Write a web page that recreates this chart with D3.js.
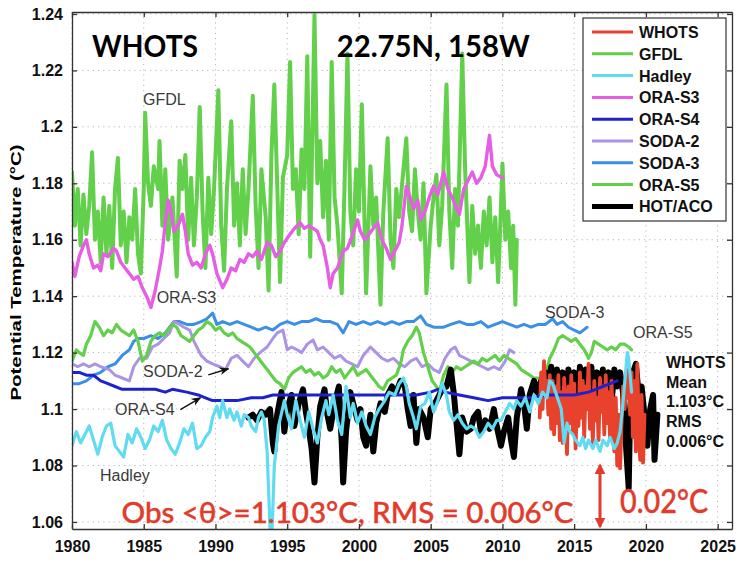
<!DOCTYPE html>
<html><head><meta charset="utf-8">
<script src="https://cdn.jsdelivr.net/npm/d3@7"></script>
<style>body{margin:0;background:#fff}svg{display:block}</style>
</head><body>
<svg id="chart" width="756" height="565"></svg>
<script>
// ---------- data (year, potential temperature °C) ----------
const xTicks = [1980,1985,1990,1995,2000,2005,2010,2015,2020,2025];
const yTicks = [1.06,1.08,1.10,1.12,1.14,1.16,1.18,1.20,1.22,1.24];
const legendNames = ["WHOTS","GFDL","Hadley","ORA-S3","ORA-S4","SODA-2","SODA-3","ORA-S5","HOT/ACO"];

const gfdl = [[1980.0,1.184],[1980.2,1.165],[1980.4,1.178],[1980.6,1.158],[1980.8,1.176],[1981.0,1.162],[1981.2,1.172],[1981.4,1.191],[1981.6,1.160],[1981.8,1.170],
[1982.0,1.152],[1982.2,1.175],[1982.4,1.155],[1982.6,1.172],[1982.8,1.150],[1983.0,1.178],[1983.2,1.189],[1983.4,1.158],[1983.6,1.170],[1983.8,1.152],
[1984.0,1.168],[1984.2,1.160],[1984.4,1.178],[1984.6,1.155],[1984.8,1.148],[1985.0,1.178],[1985.1,1.205],[1985.3,1.180],[1985.5,1.172],[1985.7,1.186],
[1986.0,1.178],[1986.1,1.195],[1986.3,1.165],[1986.5,1.185],[1986.7,1.160],[1987.0,1.175],[1987.3,1.147],[1987.5,1.188],[1987.7,1.178],[1987.9,1.190],
[1988.1,1.160],[1988.3,1.182],[1988.5,1.158],[1988.7,1.175],[1988.9,1.207],[1989.1,1.170],[1989.3,1.150],[1989.5,1.182],[1989.7,1.162],[1989.9,1.178],
[1990.2,1.213],[1990.4,1.165],[1990.6,1.149],[1990.8,1.178],[1991.1,1.202],[1991.3,1.165],[1991.5,1.180],[1991.7,1.158],[1991.9,1.185],[1992.1,1.162],
[1992.3,1.178],[1992.6,1.211],[1992.8,1.172],[1993.0,1.150],[1993.2,1.185],[1993.5,1.168],[1993.7,1.142],[1993.9,1.190],[1994.1,1.215],[1994.3,1.180],
[1994.5,1.145],[1994.7,1.182],[1995.0,1.190],[1995.2,1.223],[1995.4,1.178],[1995.6,1.185],[1995.8,1.162],[1996.0,1.192],[1996.2,1.178],[1996.4,1.225],
[1996.6,1.154],[1996.9,1.2396],[1997.1,1.180],[1997.3,1.195],[1997.5,1.168],[1997.7,1.188],[1997.9,1.160],[1998.1,1.223],[1998.3,1.175],[1998.5,1.165],
[1998.8,1.141],[1999.0,1.180],[1999.2,1.226],[1999.4,1.170],[1999.6,1.158],[1999.8,1.185],[2000.0,1.170],[2000.2,1.208],[2000.5,1.141],[2000.8,1.186],
[2001.0,1.165],[2001.2,1.175],[2001.5,1.137],[2001.7,1.170],[2002.0,1.196],[2002.2,1.160],[2002.4,1.150],[2002.6,1.178],[2002.8,1.168],[2003.1,1.185],
[2003.3,1.196],[2003.5,1.170],[2003.7,1.163],[2003.9,1.185],[2004.1,1.170],[2004.3,1.160],[2004.5,1.180],[2004.7,1.141],[2005.0,1.165],[2005.2,1.175],
[2005.4,1.183],[2005.6,1.158],[2005.8,1.172],[2006.1,1.215],[2006.3,1.170],[2006.5,1.150],[2006.7,1.178],[2006.9,1.165],[2007.2,1.226],[2007.4,1.185],
[2007.7,1.145],[2007.9,1.172],[2008.1,1.155],[2008.3,1.165],[2008.5,1.150],[2008.7,1.170],[2008.9,1.158],[2009.1,1.175],[2009.3,1.152],[2009.5,1.168],
[2009.7,1.145],[2009.85,1.165],[2010.0,1.187],[2010.2,1.160],[2010.4,1.170],[2010.6,1.150],[2010.75,1.165],[2010.9,1.137],[2011.0,1.160]];

const oras3 = [[1980.0,1.152],[1980.2,1.147],[1980.5,1.154],[1980.8,1.158],[1981.0,1.160],[1981.2,1.155],[1981.5,1.150],[1981.8,1.151],[1982.0,1.149],[1982.2,1.155],
[1982.5,1.154],[1982.9,1.157],[1983.1,1.156],[1983.4,1.152],[1983.7,1.150],[1984.0,1.148],[1984.3,1.146],[1984.6,1.147],[1984.9,1.143],[1985.2,1.140],
[1985.5,1.136],[1985.8,1.142],[1986.1,1.150],[1986.3,1.156],[1986.5,1.166],[1986.7,1.174],[1986.9,1.170],[1987.1,1.163],[1987.4,1.165],[1987.7,1.169],
[1987.9,1.163],[1988.1,1.155],[1988.4,1.151],[1988.7,1.152],[1989.0,1.150],[1989.3,1.155],[1989.6,1.158],[1989.8,1.155],[1990.1,1.148],[1990.5,1.143],
[1990.8,1.146],[1991.1,1.150],[1991.4,1.149],[1991.7,1.153],[1992.0,1.152],[1992.3,1.155],[1992.6,1.154],[1992.9,1.156],[1993.2,1.153],[1993.6,1.159],
[1993.9,1.158],[1994.2,1.154],[1994.5,1.156],[1994.8,1.159],[1995.2,1.162],[1995.5,1.164],[1995.9,1.166],[1996.2,1.164],[1996.5,1.165],[1996.8,1.164],
[1997.1,1.163],[1997.3,1.160],[1997.5,1.158],[1997.8,1.150],[1998.0,1.143],[1998.2,1.148],[1998.5,1.150],[1998.9,1.156],[1999.2,1.157],[1999.5,1.161],
[1999.9,1.167],[2000.1,1.163],[2000.4,1.160],[2000.7,1.162],[2001.0,1.164],[2001.3,1.166],[2001.6,1.160],[2001.9,1.157],[2002.2,1.153],[2002.5,1.156],
[2002.8,1.159],[2003.0,1.165],[2003.3,1.179],[2003.5,1.176],[2003.8,1.171],[2004.1,1.174],[2004.3,1.167],[2004.6,1.170],[2004.9,1.175],[2005.2,1.179],
[2005.5,1.176],[2005.9,1.184],[2006.2,1.178],[2006.5,1.175],[2006.8,1.171],[2007.0,1.169],[2007.3,1.178],[2007.6,1.181],[2007.9,1.184],[2008.2,1.180],
[2008.5,1.182],[2008.8,1.186],[2009.1,1.197],[2009.3,1.186],[2009.6,1.183],[2010.0,1.182]];

const soda3 = [[1980.0,1.109],[1980.5,1.109],[1981.0,1.110],[1981.5,1.112],[1982.0,1.113],[1982.5,1.115],[1983.0,1.116],[1983.5,1.119],[1984.0,1.121],[1984.3,1.124],
[1984.6,1.125],[1985.0,1.125],[1985.5,1.126],[1986.0,1.125],[1986.5,1.127],[1986.8,1.129],[1987.1,1.131],[1987.5,1.131],[1988.0,1.130],[1988.5,1.130],
[1989.0,1.131],[1989.4,1.132],[1989.8,1.134],[1990.1,1.130],[1990.5,1.131],[1991.0,1.130],[1991.5,1.131],[1992.0,1.130],[1992.5,1.129],[1993.0,1.128],
[1993.5,1.129],[1994.0,1.128],[1994.5,1.130],[1995.0,1.131],[1995.5,1.130],[1996.0,1.131],[1996.5,1.131],[1997.0,1.132],[1997.5,1.131],[1998.0,1.131],
[1998.5,1.130],[1998.9,1.127],[1999.3,1.131],[1999.8,1.130],[2000.3,1.131],[2000.8,1.130],[2001.3,1.131],[2001.8,1.130],[2002.3,1.131],[2002.8,1.130],
[2003.3,1.131],[2003.8,1.131],[2004.3,1.133],[2004.7,1.130],[2005.2,1.129],[2005.9,1.129],[2006.4,1.130],[2007.0,1.131],[2007.5,1.130],[2008.0,1.130],
[2008.5,1.131],[2009.0,1.129],[2009.5,1.130],[2010.0,1.131],[2010.5,1.130],[2011.0,1.129],[2011.5,1.130],[2012.0,1.129],[2012.5,1.130],[2013.0,1.130],
[2013.5,1.132],[2013.8,1.130],[2014.2,1.131],[2014.6,1.129],[2015.0,1.128],[2015.4,1.127],[2015.9,1.129]];

const soda2 = [[1980.0,1.116],[1980.4,1.115],[1980.8,1.116],[1981.2,1.115],[1981.6,1.116],[1982.0,1.115],[1982.6,1.114],[1983.0,1.112],[1983.5,1.111],[1984.0,1.110],
[1984.3,1.115],[1984.7,1.118],[1985.2,1.118],[1985.6,1.122],[1986.0,1.123],[1986.4,1.125],[1986.8,1.127],[1987.1,1.131],[1987.5,1.130],[1987.8,1.129],
[1988.2,1.128],[1988.5,1.124],[1988.7,1.122],[1989.0,1.119],[1989.4,1.117],[1989.8,1.116],[1990.3,1.115],[1990.7,1.114],[1991.1,1.118],[1991.5,1.119],
[1991.9,1.117],[1992.3,1.115],[1992.7,1.118],[1993.1,1.120],[1993.6,1.122],[1994.0,1.125],[1994.3,1.127],[1994.7,1.128],[1995.0,1.121],[1995.3,1.122],
[1995.7,1.121],[1996.0,1.120],[1996.4,1.123],[1996.8,1.1245],[1997.1,1.121],[1997.5,1.122],[1997.9,1.120],[1998.3,1.118],[1998.7,1.119],[1999.1,1.117],
[1999.5,1.116],[1999.9,1.115],[2000.3,1.119],[2000.8,1.122],[2001.2,1.120],[2001.6,1.118],[2002.0,1.117],[2002.4,1.118],[2002.8,1.116],[2003.2,1.115],
[2003.6,1.117],[2004.0,1.118],[2004.4,1.115],[2004.8,1.116],[2005.2,1.114],[2005.6,1.113],[2006.0,1.118],[2006.4,1.121],[2006.7,1.122],[2007.0,1.119],
[2007.4,1.118],[2007.8,1.117],[2008.2,1.116],[2008.6,1.115],[2009.0,1.114],[2009.4,1.115],[2009.8,1.114],[2010.2,1.117],[2010.5,1.121],[2010.8,1.120]];

const oras5 = [[1980.0,1.117],[1980.3,1.121],[1980.5,1.120],[1980.8,1.119],[1981.0,1.123],[1981.3,1.126],[1981.6,1.131],[1981.9,1.129],[1982.2,1.126],[1982.5,1.128],
[1982.8,1.127],[1983.1,1.130],[1983.4,1.128],[1983.7,1.127],[1984.0,1.126],[1984.3,1.128],[1984.6,1.124],[1984.9,1.117],[1985.2,1.119],[1985.5,1.124],
[1985.8,1.126],[1986.1,1.127],[1986.4,1.126],[1986.7,1.128],[1987.0,1.130],[1987.3,1.129],[1987.6,1.126],[1987.9,1.125],[1988.2,1.124],[1988.5,1.126],
[1988.8,1.128],[1989.1,1.129],[1989.4,1.131],[1989.7,1.130],[1990.0,1.128],[1990.3,1.129],[1990.6,1.127],[1990.9,1.126],[1991.2,1.127],[1991.5,1.125],
[1991.8,1.124],[1992.1,1.123],[1992.4,1.122],[1992.7,1.120],[1993.0,1.118],[1993.3,1.116],[1993.6,1.114],[1993.9,1.112],[1994.2,1.110],[1994.5,1.109],
[1994.8,1.107],[1995.1,1.111],[1995.4,1.113],[1995.7,1.114],[1996.0,1.115],[1996.3,1.113],[1996.6,1.114],[1996.9,1.112],[1997.2,1.113],[1997.5,1.111],
[1997.8,1.112],[1998.1,1.115],[1998.4,1.113],[1998.7,1.114],[1999.0,1.111],[1999.3,1.113],[1999.6,1.115],[1999.9,1.112],[2000.2,1.113],[2000.5,1.114],
[2000.8,1.112],[2001.1,1.110],[2001.4,1.108],[2001.7,1.107],[2002.0,1.110],[2002.3,1.111],[2002.6,1.112],[2002.9,1.116],[2003.1,1.121],[2003.4,1.124],
[2003.7,1.126],[2004.0,1.129],[2004.2,1.127],[2004.5,1.120],[2004.8,1.115],[2005.1,1.110],[2005.4,1.108],[2005.6,1.106],[2005.9,1.112],[2006.2,1.115],
[2006.5,1.113],[2006.8,1.115],[2007.1,1.114],[2007.4,1.115],[2007.7,1.116],[2008.0,1.117],[2008.3,1.116],[2008.6,1.118],[2008.9,1.117],[2009.2,1.118],
[2009.5,1.119],[2009.8,1.117],[2010.1,1.119],[2010.4,1.118],[2010.7,1.117],[2011.0,1.116],[2011.3,1.114],[2011.6,1.113],[2011.9,1.112],[2012.2,1.111],
[2012.5,1.111],[2012.8,1.110],[2013.1,1.114],[2013.3,1.118],[2013.6,1.121],[2013.9,1.125],[2014.2,1.126],[2014.5,1.125],[2014.8,1.124],[2015.1,1.125],
[2015.4,1.123],[2015.7,1.121],[2016.0,1.118],[2016.2,1.120],[2016.4,1.124],[2016.7,1.123],[2017.0,1.122],[2017.3,1.121],[2017.6,1.122],[2017.9,1.121],
[2018.2,1.123],[2018.5,1.123],[2018.8,1.122],[2019.0,1.121]];

const oras4 = [[1980.0,1.113],[1980.5,1.113],[1981.0,1.112],[1981.5,1.112],[1982.0,1.110],[1982.5,1.109],[1983.0,1.108],[1983.5,1.107],[1984.0,1.107],[1985.0,1.107],
[1985.8,1.107],[1986.5,1.106],[1987.0,1.107],[1988.0,1.106],[1988.8,1.105],[1989.3,1.104],[1989.8,1.103],[1990.5,1.103],[1991.5,1.103],[1992.5,1.104],
[1993.3,1.104],[1994.0,1.105],[1995.0,1.105],[1996.0,1.105],[1997.0,1.105],[1998.0,1.105],[1999.0,1.105],[2000.0,1.105],[2001.0,1.105],[2002.0,1.105],
[2003.0,1.105],[2004.0,1.105],[2005.0,1.106],[2005.5,1.107],[2006.0,1.106],[2007.0,1.105],[2008.0,1.104],[2009.0,1.103],[2010.0,1.104],[2011.0,1.104],
[2012.0,1.104],[2013.0,1.105],[2014.0,1.105],[2015.0,1.105],[2016.0,1.106],[2016.5,1.107],[2017.0,1.108],[2017.5,1.109],[2018.0,1.110]];

const hadley = [[1980.0,1.087],[1980.3,1.092],[1980.6,1.088],[1980.9,1.091],[1981.2,1.094],[1981.5,1.089],[1981.8,1.084],[1982.1,1.090],[1982.4,1.094],[1982.7,1.095],
[1983.0,1.087],[1983.3,1.085],[1983.6,1.083],[1983.9,1.091],[1984.2,1.088],[1984.5,1.093],[1984.8,1.090],[1985.1,1.086],[1985.4,1.089],[1985.7,1.094],
[1986.0,1.092],[1986.3,1.096],[1986.6,1.089],[1986.9,1.086],[1987.2,1.084],[1987.5,1.088],[1987.8,1.093],[1988.1,1.091],[1988.4,1.095],[1988.7,1.086],
[1989.0,1.087],[1989.3,1.090],[1989.6,1.092],[1989.8,1.097],[1990.1,1.101],[1990.3,1.097],[1990.5,1.103],[1990.8,1.097],[1991.0,1.100],[1991.3,1.096],
[1991.5,1.099],[1991.8,1.094],[1992.0,1.098],[1992.3,1.097],[1992.5,1.094],[1992.8,1.092],[1993.0,1.097],[1993.2,1.099],[1993.4,1.096],[1993.6,1.085],
[1993.8,1.058],[1993.9,1.050],[1994.1,1.080],[1994.4,1.094],[1994.8,1.103],[1995.0,1.098],[1995.3,1.093],[1995.6,1.103],[1995.9,1.096],[1996.2,1.090],
[1996.5,1.099],[1996.8,1.093],[1997.1,1.088],[1997.4,1.097],[1997.7,1.103],[1997.9,1.098],[1998.2,1.105],[1998.5,1.096],[1998.8,1.091],[1999.1,1.108],
[1999.4,1.097],[1999.6,1.102],[1999.9,1.095],[2000.2,1.099],[2000.5,1.094],[2000.8,1.091],[2001.1,1.097],[2001.4,1.100],[2001.8,1.103],[2002.1,1.106],
[2002.5,1.105],[2002.8,1.109],[2003.1,1.111],[2003.3,1.108],[2003.5,1.102],[2003.8,1.097],[2004.0,1.093],[2004.3,1.101],[2004.6,1.102],[2004.9,1.106],
[2005.2,1.099],[2005.5,1.103],[2005.8,1.109],[2006.1,1.105],[2006.3,1.099],[2006.6,1.096],[2006.9,1.098],[2007.2,1.095],[2007.5,1.093],[2007.8,1.094],
[2008.1,1.093],[2008.4,1.090],[2008.7,1.092],[2009.0,1.095],[2009.3,1.093],[2009.6,1.096],[2009.9,1.096],[2010.2,1.099],[2010.5,1.102],[2010.8,1.100],
[2011.0,1.103],[2011.3,1.101],[2011.6,1.104],[2011.9,1.099],[2012.2,1.105],[2012.5,1.102],[2012.8,1.106],[2013.1,1.104],[2013.3,1.110],[2013.5,1.109],
[2013.7,1.106],[2013.9,1.103],[2014.1,1.100],[2014.3,1.088],[2014.5,1.095],[2014.7,1.092],[2014.9,1.091],[2015.1,1.089],[2015.4,1.087],[2015.6,1.090],
[2015.8,1.086],[2016.0,1.089],[2016.3,1.086],[2016.5,1.089],[2016.8,1.085],[2017.0,1.089],[2017.3,1.087],[2017.5,1.090],[2017.8,1.086],[2018.0,1.088],
[2018.2,1.092],[2018.4,1.102],[2018.6,1.114],[2018.7,1.120],[2018.8,1.118],[2018.9,1.112],[2019.0,1.106]];

const hotaco = [[1992.3,1.097],[1992.6,1.098],[1992.9,1.096],[1993.2,1.099],[1993.5,1.098],[1993.8,1.100],[1994.0,1.088],[1994.1,1.085],[1994.3,1.098],[1994.6,1.106],
[1994.8,1.092],[1995.0,1.100],[1995.3,1.105],[1995.5,1.094],[1995.8,1.102],[1996.1,1.107],[1996.3,1.099],[1996.5,1.093],[1996.7,1.086],[1996.9,1.074],
[1997.1,1.090],[1997.3,1.101],[1997.6,1.107],[1997.8,1.098],[1998.0,1.093],[1998.3,1.102],[1998.6,1.108],[1998.8,1.088],[1998.9,1.074],[1999.1,1.092],
[1999.4,1.106],[1999.6,1.102],[1999.9,1.096],[2000.1,1.100],[2000.3,1.090],[2000.5,1.087],[2000.8,1.098],[2001.0,1.085],[2001.2,1.095],[2001.5,1.102],
[2001.8,1.099],[2002.0,1.105],[2002.3,1.108],[2002.6,1.106],[2002.9,1.110],[2003.2,1.108],[2003.4,1.100],[2003.6,1.094],[2003.8,1.105],[2004.0,1.088],
[2004.2,1.100],[2004.5,1.097],[2004.8,1.090],[2005.0,1.100],[2005.3,1.102],[2005.5,1.104],[2005.8,1.107],[2006.1,1.108],[2006.4,1.114],[2006.6,1.106],
[2006.8,1.095],[2007.0,1.084],[2007.2,1.097],[2007.5,1.092],[2007.8,1.093],[2008.0,1.097],[2008.3,1.099],[2008.5,1.092],[2008.8,1.096],[2009.1,1.093],
[2009.4,1.100],[2009.6,1.094],[2009.9,1.087],[2010.1,1.092],[2010.4,1.097],[2010.6,1.089],[2010.8,1.083],[2011.0,1.097],[2011.3,1.107],[2011.5,1.102],
[2011.7,1.093],[2011.9,1.105],[2012.2,1.110],[2012.4,1.106],[2012.7,1.110],[2013.0,1.113],[2013.2,1.108],[2013.4,1.115],[2013.6,1.104],[2013.8,1.114],
[2014.0,1.100],[2014.2,1.113],[2014.4,1.098],[2014.6,1.114],[2014.8,1.102],[2015.0,1.113],[2015.2,1.096],[2015.4,1.115],[2015.6,1.101],[2015.8,1.114],
[2016.0,1.103],[2016.2,1.115],[2016.4,1.099],[2016.6,1.113],[2016.8,1.104],[2017.0,1.114],[2017.2,1.100],[2017.4,1.113],[2017.6,1.102],[2017.8,1.114],
[2018.0,1.108],[2018.2,1.113],[2018.4,1.106],[2018.6,1.088],[2018.8,1.072],[2018.9,1.100],[2019.1,1.113],[2019.3,1.116],[2019.5,1.105],[2019.7,1.108],
[2019.9,1.098],[2020.1,1.087],[2020.3,1.100],[2020.5,1.105],[2020.6,1.082],[2020.8,1.098]];

const whots = [[2012.6,1.097],[2012.7,1.113],[2012.8,1.100],[2012.9,1.117],[2013.0,1.105],[2013.1,1.110],[2013.2,1.098],[2013.3,1.112],[2013.4,1.093],[2013.5,1.110],
[2013.6,1.091],[2013.7,1.108],[2013.8,1.095],[2013.9,1.112],[2014.0,1.089],[2014.1,1.106],[2014.2,1.088],[2014.3,1.111],[2014.4,1.098],[2014.5,1.084],
[2014.6,1.108],[2014.7,1.095],[2014.8,1.112],[2014.9,1.092],[2015.0,1.109],[2015.1,1.086],[2015.2,1.105],[2015.3,1.094],[2015.4,1.113],[2015.5,1.097],
[2015.6,1.110],[2015.7,1.090],[2015.8,1.108],[2015.9,1.100],[2016.0,1.116],[2016.1,1.093],[2016.2,1.106],[2016.3,1.088],[2016.4,1.110],[2016.5,1.096],
[2016.6,1.104],[2016.7,1.089],[2016.8,1.111],[2016.9,1.099],[2017.0,1.108],[2017.1,1.091],[2017.2,1.112],[2017.3,1.095],[2017.4,1.106],[2017.5,1.090],
[2017.6,1.110],[2017.7,1.097],[2017.8,1.085],[2017.9,1.104],[2018.0,1.080],[2018.1,1.098],[2018.2,1.079],[2018.3,1.095],[2018.4,1.108],[2018.5,1.100],
[2018.6,1.112],[2018.7,1.104],[2018.8,1.114],[2018.9,1.098],[2019.0,1.113],[2019.1,1.090],[2019.2,1.110],[2019.3,1.085],[2019.4,1.116],[2019.5,1.094],
[2019.6,1.082],[2019.7,1.105],[2019.8,1.081],[2019.9,1.098]];

// ---------- layout & drawing ----------
const svg = d3.select("#chart");
const L = 72, R = 732, T = 12, B = 529;
const x = d3.scaleLinear().domain([1980, 2026]).range([L, R]);
const y = d3.scaleLinear().domain([1.0575, 1.2407]).range([B, T]);

const colors = {WHOTS:"#e8412c", GFDL:"#62d04a", Hadley:"#60dbf1", "ORA-S3":"#e65ee3", "ORA-S4":"#1e22cc",
  "SODA-2":"#ab94e5", "SODA-3":"#3b8fe6", "ORA-S5":"#62d04a", "HOT/ACO":"#000000"};
const widths = {WHOTS:3.8, GFDL:4, Hadley:3.2, "ORA-S3":3.4, "ORA-S4":3, "SODA-2":3, "SODA-3":3, "ORA-S5":3.2, "HOT/ACO":6};

svg.append("defs").append("clipPath").attr("id","clip")
  .append("rect").attr("x",L).attr("y",T).attr("width",R-L).attr("height",B-T);

// grid
const grid = svg.append("g").attr("stroke","#b8b8b8").attr("stroke-width",1).attr("stroke-dasharray","1.2,4");
grid.selectAll(".gx").data(xTicks).join("line").attr("x1",d=>x(d)).attr("x2",d=>x(d)).attr("y1",T).attr("y2",B);
grid.selectAll(".gy").data(yTicks).join("line").attr("y1",d=>y(d)).attr("y2",d=>y(d)).attr("x1",L).attr("x2",R);

const line = d3.line().x(d=>x(d[0])).y(d=>y(d[1])).curve(d3.curveLinear);
const plot = svg.append("g").attr("clip-path","url(#clip)").attr("fill","none")
  .attr("stroke-linejoin","round").attr("stroke-linecap","round");
const order = [["GFDL",gfdl],["ORA-S3",oras3],["SODA-3",soda3],["SODA-2",soda2],["ORA-S5",oras5],
  ["HOT/ACO",hotaco],["WHOTS",whots],["ORA-S4",oras4],["Hadley",hadley]];
order.forEach(([n,d])=>{
  plot.append("path").datum(d).attr("d",line).attr("stroke",colors[n]).attr("stroke-width",widths[n]);
});

// axes (MATLAB-style box, inward ticks)
const axCol = "#333";
const fontTick = "bold 16px 'Liberation Sans', Arial, sans-serif";
const xb = svg.append("g").attr("transform",`translate(0,${B})`)
  .call(d3.axisBottom(x).tickValues(xTicks).tickFormat(d3.format("d")).tickSizeInner(-5).tickSizeOuter(0).tickPadding(12));
const yl = svg.append("g").attr("transform",`translate(${L},0)`)
  .call(d3.axisLeft(y).tickValues(yTicks).tickFormat(d=>d3.format("")(+d.toFixed(2))).tickSizeInner(-5).tickSizeOuter(0).tickPadding(9));
const xt = svg.append("g").attr("transform",`translate(0,${T})`)
  .call(d3.axisTop(x).tickValues(xTicks).tickFormat("").tickSizeInner(-5).tickSizeOuter(0));
const yr = svg.append("g").attr("transform",`translate(${R},0)`)
  .call(d3.axisRight(y).tickValues(yTicks).tickFormat("").tickSizeInner(-5).tickSizeOuter(0));
[xb,yl,xt,yr].forEach(g=>{
  g.selectAll("path,line").attr("stroke",axCol).attr("stroke-width",1.3);
  g.selectAll("text").style("font",fontTick).attr("fill","#111");
});

// y-axis title
svg.append("text").attr("transform",`translate(21,${(T+B)/2+2}) rotate(-90)`)
  .attr("text-anchor","middle").style("font","bold 15px 'Liberation Sans', Arial, sans-serif")
  .attr("textLength",256).attr("lengthAdjust","spacingAndGlyphs").text("Potential Temperature (°C)");

// titles
svg.append("text").attr("x",x(1981.4)).attr("y",57).style("font","bold 31px Lato, 'Open Sans', sans-serif")
  .attr("textLength",106).attr("lengthAdjust","spacingAndGlyphs").text("WHOTS");
svg.append("text").attr("x",x(1998.45)).attr("y",57).style("font","bold 31px Lato, 'Open Sans', sans-serif")
  .attr("textLength",193).attr("lengthAdjust","spacingAndGlyphs").text("22.75N, 158W");

// series labels
const labFont = "16px 'Liberation Sans', Arial, sans-serif";
const labs = [["GFDL",1984.95,1.2078],["ORA-S3",1985.9,1.1375],["SODA-2",1984.95,1.1115],["ORA-S4",1983.0,1.0980],
  ["Hadley",1981.95,1.0745],["SODA-3",2012.96,1.1323],["ORA-S5",2019.1,1.1252]];
svg.selectAll(".lab").data(labs).join("text").attr("x",d=>x(d[1])).attr("y",d=>y(d[2]))
  .style("font",labFont).attr("fill","#3a3a3a").text(d=>d[0]);

// label arrows
svg.append("defs").append("marker").attr("id","ah").attr("viewBox","0 0 10 10").attr("refX",9).attr("refY",5)
  .attr("markerWidth",7).attr("markerHeight",7).attr("orient","auto")
  .append("path").attr("d","M0,1 L10,5 L0,9 L3,5 Z").attr("fill","#111");
const arrows = [[1989.5,1.1121,1990.9,1.1143],[1987.55,1.0998,1988.95,1.1040]];
svg.selectAll(".arr").data(arrows).join("line").attr("x1",d=>x(d[0])).attr("y1",d=>y(d[1]))
  .attr("x2",d=>x(d[2])).attr("y2",d=>y(d[3])).attr("stroke","#111").attr("stroke-width",1.4).attr("marker-end","url(#ah)");

// WHOTS mean / RMS block
const stat = ["WHOTS","Mean","1.103°C","RMS","0.006°C"];
svg.selectAll(".st").data(stat).join("text").attr("x",x(2021.4)).attr("y",(d,i)=>y(1.1146)+i*19.8)
  .style("font","bold 16px 'Liberation Sans', Arial, sans-serif").attr("fill","#111").text(d=>d);

// red annotations
const red = "#e03b2b";
svg.append("text").attr("x",x(1983.45)).attr("y",y(1.0598)).style("font","500 28px Lato, 'Open Sans', sans-serif")
  .attr("fill",red).attr("stroke",red).attr("stroke-width",0.4)
  .attr("textLength",452).attr("lengthAdjust","spacingAndGlyphs").text("Obs <θ>=1.103°C, RMS = 0.006°C");
svg.append("text").attr("x",x(2018.2)).attr("y",y(1.0630)).style("font","500 32px Lato, 'Open Sans', sans-serif")
  .attr("fill",red).attr("stroke",red).attr("stroke-width",0.4)
  .attr("textLength",88).attr("lengthAdjust","spacingAndGlyphs").text("0.02°C");
const defs2 = svg.append("defs");
["up","dn"].forEach(id=>{
  defs2.append("marker").attr("id","r"+id).attr("viewBox","0 0 10 10").attr("refX",8).attr("refY",5)
    .attr("markerWidth",3.6).attr("markerHeight",3.6).attr("orient","auto")
    .append("path").attr("d","M0,0 L10,5 L0,10 Z").attr("fill",red);
});
svg.append("line").attr("x1",x(2016.8)).attr("x2",x(2016.8)).attr("y1",y(1.0584)).attr("y2",y(1.0800))
  .attr("stroke",red).attr("stroke-width",3).attr("marker-end","url(#rup)").attr("marker-start","url(#rdn)");
d3.select("#rdn").attr("orient","auto-start-reverse");

// legend
const lg = svg.append("g");
lg.append("rect").attr("x",583).attr("y",18).attr("width",143).attr("height",203)
  .attr("fill","#fff").attr("stroke","#333").attr("stroke-width",1.2);
legendNames.forEach((n,i)=>{
  const yy = 32 + i*21.8;
  lg.append("line").attr("x1",592).attr("x2",633).attr("y1",yy).attr("y2",yy)
    .attr("stroke",colors[n]).attr("stroke-width",n==="HOT/ACO"?5:3);
  lg.append("text").attr("x",639).attr("y",yy+6).style("font","bold 16px 'Liberation Sans', Arial, sans-serif")
    .attr("fill","#111").text(n);
});
</script>
